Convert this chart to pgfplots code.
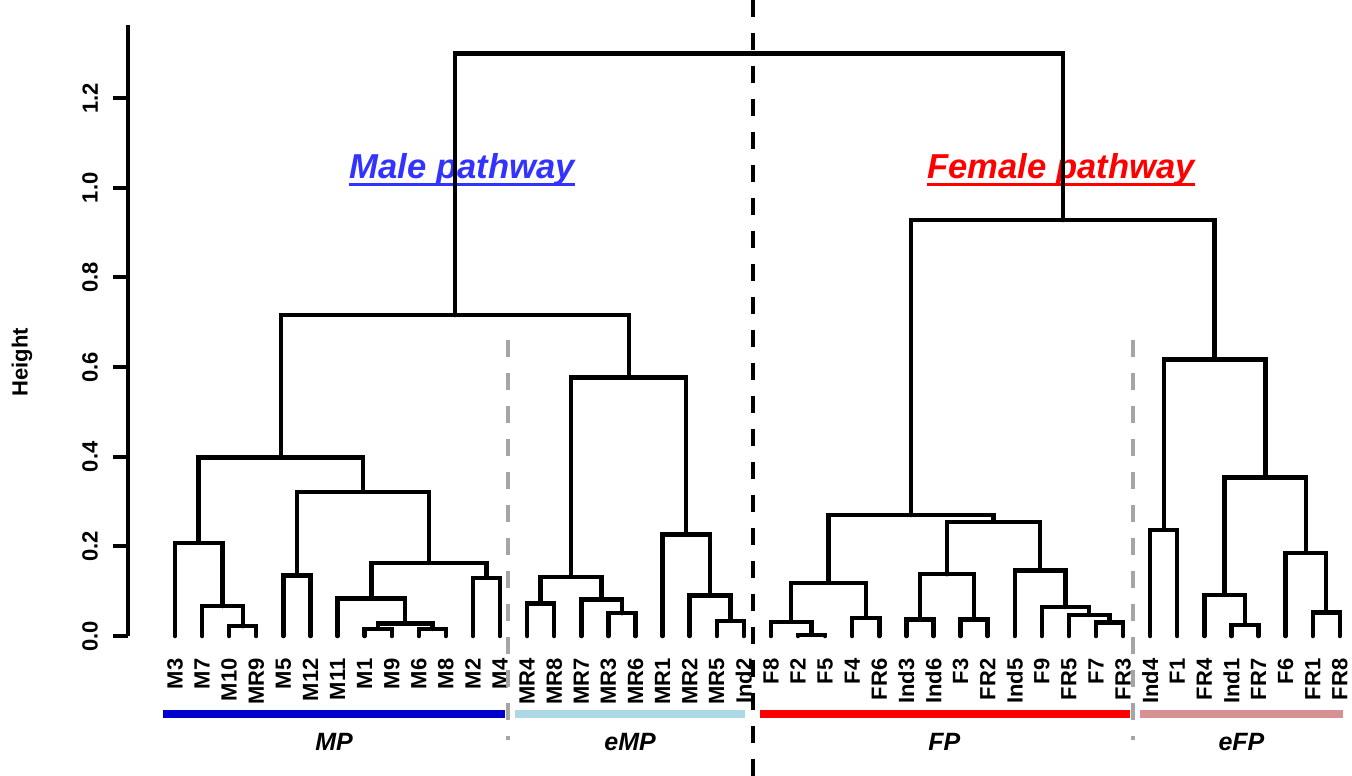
\documentclass[border=0pt]{standalone}
\usepackage{fontspec}
\setmainfont{Liberation Sans}
\usepackage{pgfplots}
\pgfplotsset{compat=1.18}
\definecolor{mpblue}{RGB}{0,0,205}
\definecolor{emplight}{RGB}{173,216,230}
\definecolor{fpred}{RGB}{250,0,0}
\definecolor{efprose}{RGB}{214,146,146}
\definecolor{maletxt}{RGB}{51,51,255}
\definecolor{dgray}{RGB}{165,165,165}
\tikzset{dend/.style={black, line width=2.2pt, line cap=round, line join=miter}}
\begin{document}
\begin{tikzpicture}
\begin{axis}[
  x=13.545pt, y=224.15pt,
  xmin=-0.735, xmax=44.45, ymin=0, ymax=1.363,
  clip=false,
  axis x line*=bottom,
  axis y line*=left,
  x axis line style={draw=none},
  y axis line style={-, line width=2pt},
  xtick={1,...,44},
  xticklabels={M3,M7,M10,MR9,M5,M12,M11,M1,M9,M6,M8,M2,M4,MR4,MR8,MR7,MR3,MR6,MR1,MR2,MR5,Ind2,F8,F2,F5,F4,FR6,Ind3,Ind6,F3,FR2,Ind5,F9,FR5,F7,FR3,Ind4,F1,FR4,Ind1,FR7,F6,FR1,FR8},
  xtick style={draw=none},
  xticklabel style={rotate=90, anchor=east, inner sep=0.5pt, font=\bfseries\fontsize{11}{13}\selectfont},
  xticklabel shift=3pt,
  ytick={0,0.2,0.4,0.6,0.8,1.0,1.2},
  ytick style={line width=2pt, black},
  tick align=outside,
  major tick length=7.5pt,
  yticklabel style={rotate=90, anchor=south, font=\bfseries\fontsize{11}{13}\selectfont},
  yticklabel shift=4pt,
  /pgf/number format/.cd, fixed, fixed zerofill, precision=1, assume math mode=true,
]
% frame of the picture
\coordinate (bbA) at (axis cs:-5.46,-0.312);
\coordinate (bbB) at (axis cs:44.45,1.419);
% pathway titles
\node[anchor=base, inner sep=0pt, text=maletxt, font=\bfseries\itshape\fontsize{17.3}{20}\selectfont] (mt) at (axis cs:11.6,1.0216) {Male pathway};
\draw[maletxt, line width=1.5pt] ([yshift=-3pt]mt.base west) -- ([yshift=-3pt]mt.base east);
\node[anchor=base, inner sep=0pt, text=red, font=\bfseries\itshape\fontsize{17.3}{20}\selectfont] (ft) at (axis cs:33.71,1.0216) {Female pathway};
\draw[red, line width=1.5pt] ([yshift=-3pt]ft.base west) -- ([yshift=-3pt]ft.base east);
% y label
\node[rotate=90, font=\bfseries\fontsize{11}{13}\selectfont] at (axis cs:-4.648,0.611) {Height};
% dashed separators
\addplot[black, line width=2pt, dash pattern=on 8.5pt off 8pt] coordinates {(22.34,1.419) (22.34,-0.312)};
\addplot[dgray, line width=1.8pt, dash pattern=on 8.5pt off 8pt] coordinates {(13.29,0.66) (13.29,-0.232)};
\addplot[dgray, line width=1.8pt, dash pattern=on 8.5pt off 8pt] coordinates {(36.36,0.66) (36.36,-0.232)};
% group bars
\addplot[mpblue, line width=3.7pt] coordinates {(0.557,-0.174) (13.18,-0.174)};
\addplot[emplight, line width=3.7pt] coordinates {(13.55,-0.174) (22.04,-0.174)};
\addplot[fpred, line width=3.7pt] coordinates {(22.59,-0.174) (36.25,-0.174)};
\addplot[efprose, line width=3.7pt] coordinates {(36.62,-0.174) (44.12,-0.174)};
% group labels
\node[font=\bfseries\itshape\fontsize{12.5}{14}\selectfont] at (axis cs:6.87,-0.236) {MP};
\node[font=\bfseries\itshape\fontsize{12.5}{14}\selectfont] at (axis cs:17.8,-0.236) {eMP};
\node[font=\bfseries\itshape\fontsize{12.5}{14}\selectfont] at (axis cs:29.4,-0.236) {FP};
\node[font=\bfseries\itshape\fontsize{12.5}{14}\selectfont] at (axis cs:40.37,-0.236) {eFP};
% dendrogram: male
\addplot[dend] coordinates {(3,0) (3,0.022) (4,0.022) (4,0)};
\addplot[dend] coordinates {(2,0) (2,0.067) (3.5,0.067) (3.5,0.022)};
\addplot[dend] coordinates {(1,0) (1,0.208) (2.75,0.208) (2.75,0.067)};
\addplot[dend] coordinates {(5,0) (5,0.135) (6,0.135) (6,0)};
\addplot[dend] coordinates {(8,0) (8,0.016) (9,0.016) (9,0)};
\addplot[dend] coordinates {(10,0) (10,0.016) (11,0.016) (11,0)};
\addplot[dend] coordinates {(8.5,0.016) (8.5,0.028) (10.5,0.028) (10.5,0.016)};
\addplot[dend] coordinates {(7,0) (7,0.084) (9.5,0.084) (9.5,0.028)};
\addplot[dend] coordinates {(12,0) (12,0.130) (13,0.130) (13,0)};
\addplot[dend] coordinates {(8.25,0.084) (8.25,0.163) (12.5,0.163) (12.5,0.130)};
\addplot[dend] coordinates {(5.5,0.135) (5.5,0.322) (10.375,0.322) (10.375,0.163)};
\addplot[dend] coordinates {(1.875,0.208) (1.875,0.398) (7.9375,0.398) (7.9375,0.322)};
\addplot[dend] coordinates {(14,0) (14,0.073) (15,0.073) (15,0)};
\addplot[dend] coordinates {(17,0) (17,0.051) (18,0.051) (18,0)};
\addplot[dend] coordinates {(16,0) (16,0.082) (17.5,0.082) (17.5,0.051)};
\addplot[dend] coordinates {(14.5,0.073) (14.5,0.132) (16.75,0.132) (16.75,0.082)};
\addplot[dend] coordinates {(21,0) (21,0.034) (22,0.034) (22,0)};
\addplot[dend] coordinates {(20,0) (20,0.091) (21.5,0.091) (21.5,0.034)};
\addplot[dend] coordinates {(19,0) (19,0.227) (20.75,0.227) (20.75,0.091)};
\addplot[dend] coordinates {(15.625,0.132) (15.625,0.577) (19.875,0.577) (19.875,0.227)};
\addplot[dend] coordinates {(4.90625,0.398) (4.90625,0.716) (17.75,0.716) (17.75,0.577)};
% dendrogram: female
\addplot[dend] coordinates {(24,0) (24,0.003) (25,0.003) (25,0)};
\addplot[dend] coordinates {(23,0) (23,0.032) (24.5,0.032) (24.5,0.003)};
\addplot[dend] coordinates {(26,0) (26,0.041) (27,0.041) (27,0)};
\addplot[dend] coordinates {(23.75,0.032) (23.75,0.119) (26.5,0.119) (26.5,0.041)};
\addplot[dend] coordinates {(28,0) (28,0.037) (29,0.037) (29,0)};
\addplot[dend] coordinates {(30,0) (30,0.037) (31,0.037) (31,0)};
\addplot[dend] coordinates {(28.5,0.037) (28.5,0.138) (30.5,0.138) (30.5,0.037)};
\addplot[dend] coordinates {(35,0) (35,0.030) (36,0.030) (36,0)};
\addplot[dend] coordinates {(34,0) (34,0.047) (35.5,0.047) (35.5,0.030)};
\addplot[dend] coordinates {(33,0) (33,0.065) (34.75,0.065) (34.75,0.047)};
\addplot[dend] coordinates {(32,0) (32,0.146) (33.875,0.146) (33.875,0.065)};
\addplot[dend] coordinates {(29.5,0.138) (29.5,0.255) (32.9375,0.255) (32.9375,0.146)};
\addplot[dend] coordinates {(25.125,0.119) (25.125,0.270) (31.21875,0.270) (31.21875,0.255)};
\addplot[dend] coordinates {(37,0) (37,0.237) (38,0.237) (38,0)};
\addplot[dend] coordinates {(40,0) (40,0.025) (41,0.025) (41,0)};
\addplot[dend] coordinates {(39,0) (39,0.092) (40.5,0.092) (40.5,0.025)};
\addplot[dend] coordinates {(43,0) (43,0.053) (44,0.053) (44,0)};
\addplot[dend] coordinates {(42,0) (42,0.186) (43.5,0.186) (43.5,0.053)};
\addplot[dend] coordinates {(39.75,0.092) (39.75,0.354) (42.75,0.354) (42.75,0.186)};
\addplot[dend] coordinates {(37.5,0.237) (37.5,0.617) (41.25,0.617) (41.25,0.354)};
\addplot[dend] coordinates {(28.171875,0.270) (28.171875,0.928) (39.375,0.928) (39.375,0.617)};
% root
\addplot[dend] coordinates {(11.328125,0.716) (11.328125,1.30) (33.7734375,1.30) (33.7734375,0.928)};
\end{axis}
\pgfresetboundingbox
\path[use as bounding box] (bbA) rectangle (bbB);
\end{tikzpicture}
\end{document}
